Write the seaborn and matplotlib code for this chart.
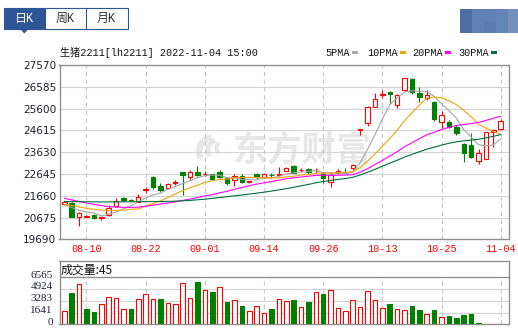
import numpy as np
import pandas as pd
import matplotlib
matplotlib.use("Agg")
import matplotlib.pyplot as plt
import matplotlib.transforms as mtransforms
from matplotlib.patches import Rectangle, Polygon, Arc
import seaborn as sns

# ---- trading days (LH2211 daily bars) ----
dates = [
    "08-05", "08-08", "08-09", "08-10", "08-11", "08-12", "08-15", "08-16", "08-17", "08-18",
    "08-19", "08-22", "08-23", "08-24", "08-25", "08-26", "08-29", "08-30", "08-31", "09-01",
    "09-02", "09-05", "09-06", "09-07", "09-08", "09-09", "09-13", "09-14", "09-15", "09-16",
    "09-19", "09-20", "09-21", "09-22", "09-23", "09-26", "09-27", "09-28", "09-29", "09-30",
    "10-10", "10-11", "10-12", "10-13", "10-14", "10-17", "10-18", "10-19", "10-20", "10-21",
    "10-24", "10-25", "10-26", "10-27", "10-28", "10-31", "11-01", "11-02", "11-03", "11-04",
]

open_ = [21270, 21320, 20714, 20700, 20790, 20670, 20790, 21210, 21570, 21470,
         21390, 21940, 22520, 22110, 22020, 22250, 22730, 22490, 22730, 22640,
         22630, 22730, 22460, 22370, 22550, 22260, 22620, 22520, 22590, 22615,
         22790, 23020, 22815, 22850, 22810, 22640, 22270, 22700, 22690, 22900,
         24645, 24960, 25690, 26230, 26360, 25760, 26440, 26940, 26290, 26060,
         25910, 25010, 24990, 24750, 24000, 23940, 23220, 23310, 24530, 24660]
high = [21435, 21360, 20930, 20780, 20830, 20720, 21228, 21544, 21620, 21520,
        21738, 22068, 22540, 22220, 22250, 22380, 22750, 22823, 23018, 22770,
        22650, 22820, 22480, 22640, 22640, 22340, 22680, 22660, 22680, 22970,
        22970, 23040, 22930, 22900, 22930, 22740, 22747, 22850, 22897, 23100,
        24660, 25718, 26320, 26440, 26400, 26260, 27000, 27000, 26562, 26440,
        25930, 25508, 25080, 24860, 24060, 24482, 23772, 24560, 24660, 25115]
low = [21228, 20690, 20290, 20690, 20620, 20580, 20750, 21150, 21400, 21380,
       21360, 21770, 21950, 21820, 21980, 22150, 21680, 22370, 22550, 22530,
       22380, 22450, 22160, 22113, 22230, 22230, 22430, 22480, 22450, 22600,
       22760, 22700, 22750, 22650, 22680, 22222, 22040, 22690, 22665, 22830,
       24400, 24812, 25650, 26090, 25840, 25640, 26400, 26245, 25911, 26010,
       25038, 24735, 24720, 24400, 23200, 23380, 23080, 23300, 23862, 24640]
close = [21390, 20710, 20893, 20760, 20670, 20690, 21090, 21410, 21455, 21400,
         21590, 21960, 22070, 21920, 22200, 22270, 22590, 22730, 22600, 22660,
         22400, 22520, 22220, 22560, 22300, 22320, 22500, 22625, 22575, 22630,
         22930, 22700, 22830, 22720, 22830, 22450, 22600, 22790, 22670, 23050,
         24660, 25660, 26020, 26260, 26260, 26210, 26970, 26340, 26140, 26200,
         25120, 25300, 24750, 24480, 23610, 23420, 23580, 24530, 24630, 25020]

volume = [1860, 4380, 5590, 2140, 1720, 2790, 3820, 3680, 2140, 2140,
          3540, 4240, 3540, 3540, 2980, 2840, 5770, 3680, 5968, 4800,
          4560, 5220, 3120, 3400, 2560, 1860, 2560, 1540, 2140, 3490,
          3210, 3400, 2370, 3120, 4470, 4240, 4750, 2240, 1820, 3350,
          2380, 4610, 3350, 2240, 2840, 2100, 1960, 2560, 2000, 1400,
          2000, 1020, 1160, 890, 1300, 1440, 130, 110, 90, 45]
# 1 = volume bar shown as rising day, 0 = falling day
volume_rise = [1, 0, 1, 0, 0, 1, 1, 1, 1, 0,
               1, 1, 1, 0, 1, 1, 1, 1, 0, 1,
               0, 1, 0, 1, 0, 1, 1, 1, 0, 1,
               1, 0, 1, 0, 1, 0, 1, 1, 1, 1,
               1, 1, 1, 1, 0, 1, 1, 0, 0, 1,
               0, 1, 0, 0, 0, 0, 0, 1, 1, 1]

# moving-average values before each window is filled (earlier history)
ma5_head = [21260, 21120, 21000, 20930]
ma10_head = [21270, 21220, 21150, 21090, 21040, 21010, 20990, 20990, 21010]
ma20_head = [21544, 21470, 21400, 21330, 21270, 21215, 21170, 21145, 21135, 21135,
             21145, 21180, 21235, 21285, 21330, 21385, 21445, 21510, 21580]
ma30_head = [21400, 21395, 21390, 21385, 21385, 21380, 21380, 21385, 21385, 21390,
             21390, 21395, 21395, 21400, 21405, 21415, 21430, 21450, 21475, 21505,
             21540, 21575, 21615, 21655, 21695, 21735, 21775, 21820, 21870]

price_ticks = [19690, 20675, 21660, 22645, 23630, 24615, 25600, 26585, 27570]
volume_ticks = [0, 1641, 3283, 4924, 6565]
date_labels = ["08-10", "08-22", "09-01", "09-14", "09-26", "10-13", "10-25", "11-04"]

title = "生猪2211[lh2211] 2022-11-04 15:00"
ma_names = ["5PMA", "10PMA", "20PMA", "30PMA"]
ma_colors = ["#a6a6a6", "#f2a20c", "#ff00ff", "#00703a"]
tabs = ["日K", "周K", "月K"]

# ---- derived series ----
o = np.array(open_, float)
h = np.array(high, float)
lo = np.array(low, float)
c = np.array(close, float)
x = np.arange(len(dates))
closes = pd.Series(c)


def moving_average(head, window):
    vals = closes.rolling(window).mean().to_numpy()
    vals[:len(head)] = head
    return vals


mas = [moving_average(ma5_head, 5), moving_average(ma10_head, 10),
       moving_average(ma20_head, 20), moving_average(ma30_head, 30)]

RED = "#ff0000"
GRN = "#008000"
BLUE = "#2e5596"
SPINE = "#8f8f8f"
GRID = "#d4d4d4"
DASH = "#c8c8c8"
MARK = "#e7e7e7"
MONO = ["Liberation Mono", "Noto Sans CJK SC"]

sns.set_theme(style="white")
plt.rcParams["font.family"] = ["DejaVu Sans", "Noto Sans CJK SC"]

W, H = 518, 330
fig = plt.figure(figsize=(W / 100, H / 100), dpi=100)
fig.patch.set_facecolor("white")


def box(left, top, right, bottom):
    return [left / W, 1 - bottom / H, (right - left) / W, (bottom - top) / H]


def fig_xy(px, py):
    return px / W, 1 - py / H


ax = fig.add_axes(box(59.5, 65, 509, 239.3))
axv = fig.add_axes(box(59.5, 260.7, 509, 324.3))
xlim = (-0.65, 60.12)

# ---- price panel ----
ax.set_facecolor("white")
# faint brand mark behind the candles
ax.text(0.54, 0.515, "东方财富", transform=ax.transAxes, ha="center", va="center",
        fontsize=25, fontweight="bold", color=MARK, family="Noto Sans CJK SC", zorder=0)
for cx, cy, r, t1, t2, lw in [(214, 152, 30, 95, 215, 4.5), (218, 150, 20, 100, 230, 3.5),
                              (222, 148, 11, 110, 250, 3.0)]:
    ax.add_patch(Arc(fig_xy(cx, cy), r / W, r / H, theta1=t1, theta2=t2,
                     transform=fig.transFigure, color=MARK, lw=lw, zorder=0))

for t in price_ticks:
    ax.axhline(t, color=GRID, lw=0.8, zorder=1)
tick_idx = [dates.index(d) for d in date_labels]
for i in tick_idx:
    ax.axvline(i, color=DASH, lw=0.8, ls=(0, (4, 3)), zorder=1)

rise = c >= o
wick_colors = [RED if r else GRN for r in rise]
ax.vlines(x, lo, h, colors=wick_colors, lw=0.8, zorder=3)
body_bottom = np.minimum(o, c)
body_height = np.maximum(np.abs(c - o), 12)
ax.bar(x, body_height, bottom=body_bottom, width=0.6,
       color=["white" if r else GRN for r in rise],
       edgecolor=wick_colors, linewidth=0.8, zorder=4)

for ma, col in zip(mas, ma_colors):
    sns.lineplot(x=x, y=ma, ax=ax, color=col, lw=0.8, zorder=5)

ax.set_xlim(*xlim)
ax.set_ylim(price_ticks[0], price_ticks[-1])
ax.set_yticks(price_ticks)
ax.set_yticklabels([str(t) for t in price_ticks])
ax.set_xticks(tick_idx)
ax.set_xticklabels(date_labels, color=RED, family=MONO, fontsize=7.3)
ax.tick_params(axis="y", length=0, pad=2.2, labelsize=7.6, labelcolor="#1e1e2e")
ax.tick_params(axis="x", length=0, pad=3.6)
ax.set_xlabel("")
ax.set_ylabel("")
for s in ax.spines.values():
    s.set_visible(True)
    s.set_color(SPINE)
    s.set_linewidth(1.0)

# ---- volume panel ----
axv.set_facecolor("white")
for t in volume_ticks[1:-1]:
    axv.axhline(t, color=GRID, lw=0.8, zorder=1)
axv.axhline(volume_ticks[-1], color=SPINE, lw=1.0, zorder=1)
axv.vlines(tick_idx, 0, volume_ticks[-1], colors=DASH, lw=0.8, linestyles=(0, (4, 3)), zorder=1)
vol_edge = [RED if r else GRN for r in volume_rise]
axv.bar(x, volume, width=0.62, color=["white" if r else GRN for r in volume_rise],
        edgecolor=vol_edge, linewidth=0.8, zorder=3)
axv.set_xlim(*xlim)
axv.set_ylim(0, volume_ticks[-1] * 63.6 / 47)
axv.set_xticks([])
axv.set_yticks([])
for s in axv.spines.values():
    s.set_visible(True)
    s.set_color(SPINE)
    s.set_linewidth(1.0)
label_tr = mtransforms.offset_copy(axv.get_yaxis_transform(), fig=fig, x=-6.8, y=2.2, units="dots")
for t in volume_ticks:
    axv.text(0, t, str(t), transform=label_tr, ha="right", va="center",
             family="Liberation Serif", fontsize=8, color="#1e1e3a", clip_on=False)
fig.text(*fig_xy(61, 270), f"成交量:{volume[-1]}", ha="left", va="center",
         family="Noto Sans CJK SC", fontsize=8.6, color="#111111")

# ---- header ----
fig.text(*fig_xy(60, 53), title, ha="left", va="center", family=MONO, fontsize=7.3, color="#111111")
legend_left = [325.7, 367.3, 412.7, 458.7]
for name, col, lx in zip(ma_names, ma_colors, legend_left):
    fig.text(*fig_xy(lx, 53), name, ha="left", va="center", family=MONO, fontsize=7.3, color="#111111")
    rx = lx + 6 * len(name) + 2.5
    fig.add_artist(Rectangle(fig_xy(rx, 53.5), 5.8 / W, 2.8 / H, transform=fig.transFigure,
                             facecolor=col, edgecolor="none"))

# period tabs
tab_left = [4, 45, 86]
for k, (name, tl) in enumerate(zip(tabs, tab_left)):
    selected = k == 0
    fig.add_artist(Rectangle(fig_xy(tl, 29.3), 41.5 / W, 21 / H, transform=fig.transFigure,
                             facecolor=BLUE if selected else "white", edgecolor=BLUE, lw=0.8))
    fig.text(*fig_xy(tl + 20.5, 19), name, ha="center", va="center", family=MONO,
             fontsize=8.6, color="white" if selected else "#333333")
fig.add_artist(Polygon([fig_xy(20.5, 29.2), fig_xy(28.2, 29.2), fig_xy(24.3, 33.6)],
                       closed=True, transform=fig.transFigure, facecolor=BLUE, edgecolor="none"))

# pixelated button at top right
mosaic = [(460, 9, 12, 23.7, "#4e6fa5"), (472, 9, 12, 23.7, "#5e80b5"),
          (484, 9, 12, 12, "#5f81b5"), (484, 21, 12, 11.7, "#5a7cb0"),
          (496, 9, 12, 23.7, "#6485b8"), (508, 9, 10, 23.7, "#7490c0")]
for mx, my, mw, mh, mc in mosaic:
    fig.add_artist(Rectangle(fig_xy(mx, my + mh), mw / W, mh / H, transform=fig.transFigure,
                             facecolor=mc, edgecolor="none"))

fig.savefig("out.png", dpi=100, facecolor="white")
